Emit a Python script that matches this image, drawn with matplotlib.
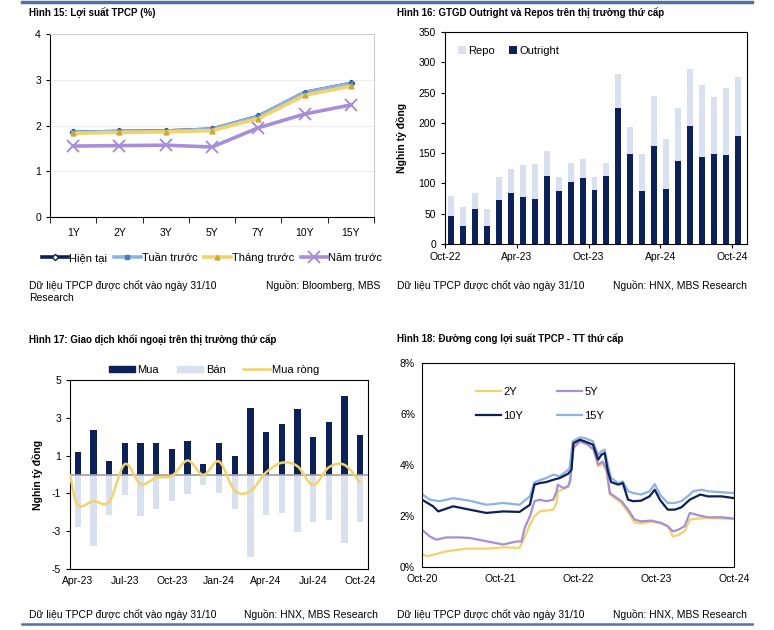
import numpy as np
import matplotlib
matplotlib.use("Agg")
import matplotlib.pyplot as plt
from matplotlib.path import Path
from matplotlib.patches import PathPatch, Patch
from matplotlib.lines import Line2D

plt.rcParams["font.family"] = ["Liberation Sans", "DejaVu Sans"]
plt.rcParams["axes.linewidth"] = 0.8
plt.rcParams["axes.unicode_minus"] = False

NAVY = "#0c2157"
LIGHT = "#d9e0f0"
YELLOW = "#f2d36b"
PURPLE = "#a68fd8"
SKY = "#8db3e2"
RULE = "#4f71a6"

# Hinh 15 - loi suat TPCP theo ky han
tenors = ["1Y", "2Y", "3Y", "5Y", "7Y", "10Y", "15Y"]
hien_tai = [1.85, 1.87, 1.88, 1.92, 2.20, 2.72, 2.92]
tuan_truoc = [1.85, 1.87, 1.88, 1.92, 2.20, 2.72, 2.92]
thang_truoc = [1.83, 1.85, 1.86, 1.89, 2.15, 2.66, 2.86]
nam_truoc = [1.55, 1.56, 1.57, 1.53, 1.95, 2.25, 2.45]

# Hinh 16 - GTGD outright va repo (Oct-22 .. Oct-24)
outright = [47, 29, 57, 30, 72, 84, 78, 74, 112, 87, 102, 109, 89, 112,
            224, 149, 87, 162, 90, 137, 194, 144, 149, 147, 179]
repo = [33, 32, 28, 27, 39, 39, 53, 58, 42, 23, 32, 32, 22, 22,
        57, 44, 62, 82, 84, 87, 95, 118, 94, 111, 96]
labels16 = ["Oct-22", "Apr-23", "Oct-23", "Apr-24", "Oct-24"]

# Hinh 17 - khoi ngoai (Apr-23 .. Oct-24)
mua = [1.18, 2.36, 0.72, 1.66, 1.68, 1.66, 1.34, 1.75, 0.56, 1.66,
       0.97, 3.51, 2.26, 2.68, 3.46, 1.96, 2.80, 4.16, 2.08]
ban = [-2.80, -3.77, -2.12, -1.11, -2.19, -1.82, -1.41, -1.01, -0.58, -0.97,
       -1.82, -4.39, -2.15, -2.06, -3.02, -2.52, -2.42, -3.65, -2.50]
mua_rong = [0.0, -1.62, -1.41, -1.45, 0.55, -0.51, -0.16, -0.07, 0.74, -0.02,
            0.69, -0.85, -0.88, 0.11, 0.62, 0.44, -0.56, 0.38, 0.51, -0.42]
labels17 = ["Apr-23", "Jul-23", "Oct-23", "Jan-24", "Apr-24", "Jul-24", "Oct-24"]

# Hinh 18 - duong cong loi suat (thang tinh tu Oct-20)
m15 = [0.0, 1.2, 2.7, 4.8, 7.3, 9.9, 12.5, 15.0, 16.6, 17.3, 19.1, 20.2, 21.2, 22.2,
       22.7, 23.2, 24.3, 25.0, 26.3, 27.1, 27.6, 28.1, 28.6, 29.1, 30.2, 30.9, 31.7,
       32.5, 33.7, 35.0, 35.8, 36.6, 37.8, 38.9, 39.9, 41.2, 41.7, 43.0, 44.0, 46.1, 48.0]
y15 = [2.86, 2.64, 2.58, 2.70, 2.60, 2.44, 2.51, 2.44, 2.77, 3.33, 3.49, 3.62, 3.56, 3.75,
       3.88, 4.93, 5.08, 5.06, 4.93, 4.40, 4.54, 4.60, 4.01, 3.49, 3.29, 3.36, 2.97,
       2.90, 2.84, 2.97, 3.25, 2.84, 2.51, 2.51, 2.58, 2.84, 2.97, 3.03, 2.97, 2.93, 2.90]
m10 = [0.0, 1.7, 2.5, 4.8, 7.3, 9.9, 12.5, 15.0, 16.6, 17.3, 18.1, 19.1, 20.2, 21.2,
       22.5, 23.0, 23.3, 24.3, 25.0, 26.3, 27.1, 27.6, 28.1, 28.6, 29.1, 30.2, 30.9,
       31.7, 32.5, 33.7, 35.0, 35.8, 36.6, 37.8, 38.9, 39.9, 41.2, 42.8, 44.0, 46.1, 48.0]
y10 = [2.64, 2.38, 2.18, 2.38, 2.25, 2.12, 2.18, 2.16, 2.44, 3.23, 3.29, 3.33, 3.42, 3.49,
       3.66, 3.82, 4.86, 4.99, 4.93, 4.80, 4.21, 4.40, 4.47, 3.75, 3.33, 3.23, 3.29,
       2.64, 2.58, 2.60, 2.77, 3.03, 2.64, 2.25, 2.25, 2.34, 2.64, 2.84, 2.77, 2.77, 2.70]
m5 = [0.0, 1.2, 2.2, 3.7, 5.8, 7.3, 9.9, 12.5, 14.5, 15.3, 15.8, 16.6, 17.3, 18.1, 19.1,
      20.2, 20.7, 20.9, 21.7, 22.5, 22.8, 23.3, 24.3, 25.5, 26.4, 27.1, 27.8, 28.4, 28.9,
      29.6, 30.7, 31.7, 32.7, 33.7, 35.3, 36.8, 37.8, 38.6, 39.4, 40.4, 41.2, 42.5, 44.0,
      46.1, 48.0]
y5 = [1.46, 1.20, 1.07, 1.16, 1.16, 1.14, 1.01, 0.88, 1.00, 1.00, 1.53, 1.99, 2.58, 2.64, 2.58,
      2.64, 2.97, 3.23, 3.10, 3.16, 3.42, 4.67, 4.93, 4.80, 4.60, 4.01, 4.14, 3.82, 2.90,
      2.77, 2.58, 2.25, 1.86, 1.79, 1.82, 1.73, 1.60, 1.40, 1.46, 1.60, 2.12, 2.03, 1.95,
      1.95, 1.90]
m2 = [0.0, 0.7, 2.2, 3.7, 6.8, 9.9, 12.5, 15.0, 15.5, 16.6, 17.3, 18.1, 20.2, 20.7, 20.9,
      22.2, 22.8, 23.3, 24.3, 25.5, 26.4, 27.1, 27.8, 28.4, 28.9, 29.6, 30.7, 31.7, 32.7,
      33.7, 35.3, 36.8, 37.8, 38.6, 39.4, 40.4, 41.2, 42.5, 44.0, 46.1, 48.0]
y2 = [0.51, 0.42, 0.51, 0.61, 0.72, 0.72, 0.77, 0.75, 1.00, 1.66, 1.99, 2.18, 2.25, 2.51, 2.97,
      3.10, 3.29, 4.73, 4.93, 4.80, 4.60, 3.95, 4.05, 3.75, 2.85, 2.72, 2.50, 2.15, 1.75,
      1.70, 1.78, 1.70, 1.60, 1.20, 1.25, 1.40, 1.86, 1.90, 1.92, 1.90, 1.88]
labels18 = ["Oct-20", "Oct-21", "Oct-22", "Oct-23", "Oct-24"]

W, H = 774, 630


def px(x, y):
    return x / W, 1 - y / H


def box(l, t, r, b):
    return [l / W, 1 - b / H, (r - l) / W, (b - t) / H]


def smooth_path(xs, ys):
    # duong cong kieu Excel (Catmull-Rom -> Bezier)
    pts = np.column_stack([xs, ys]).astype(float)
    n = len(pts)
    verts = [pts[0]]
    codes = [Path.MOVETO]
    for i in range(n - 1):
        p0 = pts[i - 1] if i > 0 else pts[i]
        p1, p2 = pts[i], pts[i + 1]
        p3 = pts[i + 2] if i + 2 < n else pts[i + 1]
        verts += [p1 + (p2 - p0) / 6, p2 - (p3 - p1) / 6, p2]
        codes += [Path.CURVE4] * 3
    return Path(verts, codes)


fig = plt.figure(figsize=(W / 100, H / 100), dpi=100)

# rules
fig.add_artist(Line2D([22 / W, 752 / W], [1 - 1.5 / H] * 2, color=RULE, lw=2.5))
fig.add_artist(Line2D([22 / W, 752 / W], [1 - 624 / H] * 2, color=RULE, lw=1.8))

fs_tick = 7.5
fs_foot = 7.5

# ---------- Hinh 15 ----------
ax1 = fig.add_axes(box(50, 34, 374, 217))
x = np.arange(len(tenors))
ax1.plot(x, hien_tai, color=NAVY, lw=2.6, marker="D", ms=3.2, mfc="white", mec=NAVY, label="Hiện tại")
ax1.plot(x, tuan_truoc, color=SKY, lw=2.6, marker="s", ms=3.5, mfc="#3f7fc7", mec="#3f7fc7", label="Tuần trước")
ax1.plot(x, thang_truoc, color=YELLOW, lw=2.6, marker="^", ms=3.5, mfc="#c9a93a", mec="#c9a93a", label="Tháng trước")
ax1.plot(x, nam_truoc, color=PURPLE, lw=2.6, marker="x", ms=8, mew=1.4, label="Năm trước")
ax1.set_xlim(-0.5, len(tenors) - 0.5)
ax1.set_ylim(0, 4)
ax1.set_yticks([0, 1, 2, 3, 4])
ax1.set_xticks(x)
ax1.set_xticklabels(tenors)
ax1.set_xticks(np.arange(-0.5, len(tenors)), minor=True)
ax1.tick_params(axis="x", which="major", length=0, labelsize=fs_tick, pad=8)
ax1.tick_params(axis="x", which="minor", length=4, direction="out")
ax1.tick_params(axis="y", labelsize=fs_tick, length=3)
ax1.grid(axis="y", color="#eeeeee", lw=0.8)
ax1.set_axisbelow(True)
for s in ["top", "right"]:
    ax1.spines[s].set_color("#cccccc")
ax1.legend(loc="center", bbox_to_anchor=(212 / W, 1 - 258 / H), bbox_transform=fig.transFigure,
           ncol=4, frameon=False, fontsize=8, handlelength=2.4, columnspacing=0.6,
           handletextpad=0.1)

fig.text(*px(29, 13), "Hình 15: Lợi suất TPCP (%)", fontsize=7, fontweight="bold", va="center")
fig.text(*px(29, 286), "Dữ liệu TPCP được chốt vào ngày 31/10", fontsize=fs_foot, va="center")
fig.text(*px(380, 286), "Nguồn: Bloomberg, MBS", fontsize=fs_foot, va="center", ha="right")
fig.text(*px(29, 298), "Research", fontsize=fs_foot, va="center")

# ---------- Hinh 16 ----------
ax2 = fig.add_axes(box(445, 32, 747, 244))
xb = np.arange(len(outright))
ax2.bar(xb, outright, width=0.5, color=NAVY, label="Outright")
ax2.bar(xb, repo, width=0.5, bottom=outright, color=LIGHT, label="Repo")
ax2.set_xlim(-0.5, len(outright) - 0.25)
ax2.set_ylim(0, 350)
ax2.set_yticks(np.arange(0, 351, 50))
ax2.set_xticks(np.arange(-0.5, len(outright), 6))
ax2.set_xticklabels(labels16)
ax2.tick_params(axis="x", labelsize=fs_tick, length=3, pad=3)
ax2.tick_params(axis="y", labelsize=fs_tick, length=3)
ax2.set_ylabel("Nghin tỷ đồng", fontsize=7.5, fontweight="bold", labelpad=8)
h, l = ax2.get_legend_handles_labels()
ax2.legend(h[::-1], l[::-1], loc="upper left", bbox_to_anchor=(0.01, 0.98), ncol=2, frameon=False,
           fontsize=8, handlelength=0.7, handleheight=0.7, handletextpad=0.2, columnspacing=1.3)

fig.text(*px(397, 13), "Hình 16: GTGD Outright và Repos trên thị trường thứ cấp", fontsize=7,
         fontweight="bold", va="center")
fig.text(*px(397, 286), "Dữ liệu TPCP được chốt vào ngày 31/10", fontsize=fs_foot, va="center")
fig.text(*px(747, 286), "Nguồn: HNX, MBS Research", fontsize=fs_foot, va="center", ha="right")

# ---------- Hinh 17 ----------
ax3 = fig.add_axes(box(70, 380, 368, 569))
xm = np.arange(len(mua))
ax3.bar(xm, mua, width=0.4, color=NAVY, label="Mua", zorder=2)
ax3.bar(xm, ban, width=0.4, color=LIGHT, label="Bán", zorder=2)
ax3.axhline(0, color="#a0a0a0", lw=1.2, zorder=3)
xr = np.r_[-0.5, xm]
ax3.add_patch(PathPatch(smooth_path(xr, mua_rong), fill=False, edgecolor=YELLOW, lw=1.8, zorder=4))
ax3.set_xlim(-0.5, len(mua) - 0.5)
ax3.set_ylim(-5, 5)
ax3.set_yticks([-5, -3, -1, 1, 3, 5])
ax3.set_xticks(xm[::3])
ax3.set_xticklabels(labels17)
ax3.tick_params(axis="x", labelsize=fs_tick, length=0, pad=5)
ax3.tick_params(axis="y", labelsize=fs_tick, length=3)
ax3.set_ylabel("Nghin tỷ đồng", fontsize=7.5, fontweight="bold", labelpad=6)
leg_h = [Patch(color=NAVY), Patch(color=LIGHT), Line2D([], [], color=YELLOW, lw=1.8)]
ax3.legend(leg_h, ["Mua", "Bán", "Mua ròng"], loc="center", bbox_to_anchor=(214 / W, 1 - 370 / H),
           bbox_transform=fig.transFigure, ncol=3, frameon=False, fontsize=8,
           handlelength=2.4, handleheight=0.5, handletextpad=0.2, columnspacing=1.6)

fig.text(*px(29, 340), "Hình 17: Giao dịch khối ngoại trên thị trường thứ cấp", fontsize=7,
         fontweight="bold", va="center")
fig.text(*px(29, 614), "Dữ liệu TPCP được chốt vào ngày 31/10", fontsize=fs_foot, va="center")
fig.text(*px(378, 614), "Nguồn: HNX, MBS Research", fontsize=fs_foot, va="center", ha="right")

# ---------- Hinh 18 ----------
ax4 = fig.add_axes(box(422, 363, 734, 567))
l2, = ax4.plot(m2, y2, color=YELLOW, lw=1.6, label="2Y")
l5, = ax4.plot(m5, y5, color=PURPLE, lw=1.6, label="5Y")
l15, = ax4.plot(m15, y15, color=SKY, lw=1.6, label="15Y")
l10, = ax4.plot(m10, y10, color=NAVY, lw=1.6, label="10Y")
ax4.set_xlim(0, 48)
ax4.set_ylim(0, 8)
ax4.set_yticks([0, 2, 4, 6, 8])
ax4.set_yticklabels([f"{v}%" for v in [0, 2, 4, 6, 8]])
ax4.set_xticks([0, 12, 24, 36, 48])
ax4.set_xticklabels(labels18)
ax4.tick_params(labelsize=fs_tick, length=0, pad=5)
ax4.legend([l2, l10, l5, l15], ["2Y", "10Y", "5Y", "15Y"], loc="upper left",
           bbox_to_anchor=(0.14, 0.93), ncol=2, frameon=False, fontsize=8,
           handlelength=2.3, handletextpad=0.2, columnspacing=3.0, labelspacing=1.2)

fig.text(*px(397, 339), "Hình 18: Đường cong lợi suất TPCP - TT thứ cấp", fontsize=7,
         fontweight="bold", va="center")
fig.text(*px(397, 614), "Dữ liệu TPCP được chốt vào ngày 31/10", fontsize=fs_foot, va="center")
fig.text(*px(747, 614), "Nguồn: HNX, MBS Research", fontsize=fs_foot, va="center", ha="right")

fig.savefig("out.png", dpi=100)
